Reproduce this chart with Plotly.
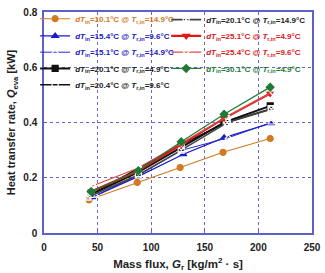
import plotly.graph_objects as go

G = [
    [42, 87, 127, 167, 211],
    [45, 88, 130, 168, 212],
    [48, 88, 129, 172, 212],
    [44, 88, 128, 168, 211],
    [44, 88, 128, 170, 212],
    [41, 88, 128, 171, 212],
    [44, 88, 128, 168, 211],
    [45, 88, 128, 170, 213],
    [44, 88, 128, 168, 211],
]
Q = [
    [0.120, 0.183, 0.237, 0.292, 0.342],
    [0.130, 0.205, 0.285, 0.345, 0.398],
    [0.135, 0.210, 0.300, 0.345, 0.400],
    [0.140, 0.220, 0.310, 0.400, 0.460],
    [0.140, 0.235, 0.320, 0.400, 0.450],
    [0.130, 0.210, 0.300, 0.400, 0.448],
    [0.150, 0.225, 0.320, 0.415, 0.505],
    [0.170, 0.235, 0.325, 0.420, 0.510],
    [0.150, 0.225, 0.330, 0.430, 0.528],
]
dTin = ["10.1", "15.4", "15.1", "20.1", "20.4", "20.1", "25.1", "25.4", "30.1"]
Trin = ["14.9", "9.6", "14.9", "4.9", "9.6", "14.9", "4.9", "9.6", "4.9"]
colors = ["#D07A22", "#1A1ACC", "#2A2ACC", "#111111", "#111111", "#444444", "#E01818", "#E04848", "#1E7A35"]
text_colors = ["#D07A22", "#2020C0", "#2020C0", "#222222", "#222222", "#222222", "#D81818", "#D81818", "#1E7A35"]
symbols = ["circle", "triangle-up", "triangle-up-open", "square", "square-open",
           "square-x-open", "triangle-down", "triangle-down-open", "diamond"]
widths = [1.1, 1.3, 1.0, 2.0, 1.6, 1.6, 2.2, 1.2, 1.2]

# legend row centres (pixels from top) and column
leg_rows = [11, 29, 46, 63, 80, 12, 29, 46, 63]
leg_cols = [0, 0, 0, 0, 0, 1, 1, 1, 1]

L, R, T, B = 44, 9, 4, 38
W, H = 325, 273
pw, ph = W - L - R, H - T - B
col_x_px = [35, 168]

fig = go.Figure()
layout_leg = {}
for i in range(9):
    key = "legend" if i == 0 else f"legend{i + 1}"
    name = f"<b><i>dT</i><sub>in</sub>={dTin[i]}°C @ <i>T</i><sub>r,in</sub>={Trin[i]}°C</b>"
    open_m = "open" in symbols[i]
    fig.add_trace(go.Scatter(
        x=G[i], y=Q[i], mode="lines+markers", name=name,
        line=dict(color=colors[i], width=widths[i]),
        marker=dict(symbol=symbols[i], size=6,
                    color="white" if open_m else colors[i],
                    line=dict(color=colors[i], width=1.2)),
        legend=key, showlegend=True,
    ))
    layout_leg[key] = dict(
        visible=True,
        x=(col_x_px[leg_cols[i]] - L) / pw,
        y=(H - B - leg_rows[i]) / ph,
        xanchor="left", yanchor="middle",
        bgcolor="rgba(0,0,0,0)", borderwidth=0,
        font=dict(family="Liberation Sans", size=8, color=text_colors[i]),
    )

axis_common = dict(
    showline=True, linecolor="#6060C8", linewidth=1.5, mirror=True,
    showgrid=True, gridcolor="#6666CC", griddash="dot", gridwidth=1,
    ticks="inside", ticklen=3, tickcolor="#6060C8", zeroline=False,
    tickfont=dict(family="Liberation Sans", size=10, color="#222222", weight="bold"),
)
fig.update_xaxes(range=[0, 250], dtick=50, ticklabelstandoff=4, **axis_common,
                 title=dict(text="<b>Mass flux, <i>G</i><sub>r</sub> [kg/m<sup>2</sup> · s]</b>",
                            font=dict(family="Liberation Sans", size=11.5, color="#222222"), standoff=8))
fig.update_yaxes(range=[0, 0.8], dtick=0.2, ticklabelstandoff=3, **axis_common,
                 title=dict(text="<b>Heat transfer rate, <i>Q</i><sub>eva</sub> [kW]</b>",
                            font=dict(family="Liberation Sans", size=11, color="#222222"), standoff=5))

fig.update_layout(
    width=W, height=H, showlegend=True,
    margin=dict(l=L, r=R, t=T, b=B),
    paper_bgcolor="white", plot_bgcolor="white",
    **layout_leg,
)

fig.write_html("out.html")
